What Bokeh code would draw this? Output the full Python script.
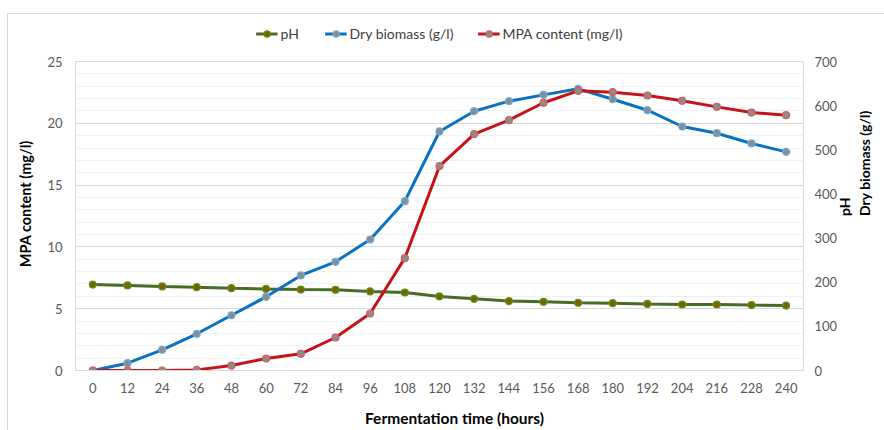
import math
from bokeh.plotting import figure
from bokeh.layouts import column
from bokeh.models import LinearAxis, Range1d, Legend, LegendItem, FixedTicker
from bokeh.embed import file_html
from bokeh.resources import INLINE

hours = ["0", "12", "24", "36", "48", "60", "72", "84", "96", "108", "120",
         "132", "144", "156", "168", "180", "192", "204", "216", "228", "240"]
ph = [6.95, 6.88, 6.80, 6.74, 6.66, 6.60, 6.55, 6.53, 6.40, 6.31, 5.99,
      5.80, 5.62, 5.56, 5.48, 5.45, 5.39, 5.34, 5.34, 5.29, 5.25]
biomass = [0.0, 0.59, 1.67, 2.97, 4.47, 5.96, 7.69, 8.79, 10.6, 13.7, 19.34,
           20.98, 21.79, 22.3, 22.79, 21.95, 21.06, 19.74, 19.2, 18.37, 17.69]
mpa = [0.0, 0.0, 0.0, 0.05, 0.4, 0.97, 1.35, 2.67, 4.61, 9.09, 16.53,
       19.12, 20.25, 21.66, 22.63, 22.52, 22.25, 21.82, 21.33, 20.87, 20.66]
left_ticks = [0, 5, 10, 15, 20, 25]
right_ticks = [0, 100, 200, 300, 400, 500, 600, 700]
series_names = ["pH", "Dry biomass (g/l)", "MPA content (mg/l)"]

FONT = "Lato"
NBSP = "\u00a0"
line_colors = ["#4a6b28", "#0a72c0", "#c41418"]
fill_colors = ["#7f6000", "#8c8c8c", "#8c8c8c"]
edge_colors = ["#4e9a1e", "#6aaee0", "#d85a5a"]
series = [ph, biomass, mpa]

# ---------- main chart ----------
p = figure(x_range=hours, y_range=Range1d(0, 25), width=884, height=385,
           output_backend="svg", toolbar_location=None,
           min_border_left=75, min_border_right=81, min_border_top=16, min_border_bottom=60)
p.extra_y_ranges = {"right": Range1d(0, 700)}
p.border_fill_alpha = 0

p.outline_line_color = "#d9d9d9"
p.xgrid.grid_line_color = None
p.ygrid.grid_line_color = "#d9d9d9"
p.ygrid.minor_grid_line_color = "#f0f0f0"
p.yaxis.ticker = FixedTicker(ticks=left_ticks, minor_ticks=list(range(26)))


def style_axis(ax):
    ax.major_tick_line_color = None
    ax.minor_tick_line_color = None
    ax.major_tick_out = 0
    ax.major_tick_in = 0
    ax.minor_tick_out = 0
    ax.minor_tick_in = 0
    ax.major_label_text_font = FONT
    ax.major_label_text_font_size = "13px"
    ax.major_label_text_color = "#595959"
    ax.axis_label_text_font = FONT
    ax.axis_label_text_font_size = "14px"
    ax.axis_label_text_font_style = "bold"
    ax.axis_label_text_color = "#000000"


style_axis(p.xaxis[0])
style_axis(p.yaxis[0])

p.xaxis.axis_line_color = "#d9d9d9"
p.yaxis.axis_line_color = None
p.xaxis.axis_label = NBSP * 8 + "Fermentation time (hours)"
p.yaxis.axis_label = NBSP * 7 + "MPA content (mg/l)"
p.xaxis.major_label_standoff = 12
p.xaxis.axis_label_standoff = 13
p.xaxis.axis_label_text_font_size = "15.5px"
p.yaxis.axis_label_text_font_size = "14.5px"
p.yaxis.major_label_standoff = 13
p.yaxis.axis_label_standoff = 10

rax = LinearAxis(y_range_name="right", ticker=FixedTicker(ticks=right_ticks),
                 axis_label="pH")
style_axis(rax)
rax.axis_line_color = None
rax.major_label_standoff = 11
rax.axis_label_standoff = 4
rax.axis_label_orientation = math.pi / 2
p.add_layout(rax, "right")

rax2 = LinearAxis(y_range_name="right", ticker=FixedTicker(ticks=[]),
                  axis_label="Dry biomass (g/l)")
style_axis(rax2)
rax2.axis_line_color = None
rax2.major_label_text_font_size = "0px"
rax2.major_label_standoff = 0
rax2.axis_label_standoff = 0
rax2.axis_label_orientation = math.pi / 2
p.add_layout(rax2, "right")

for ys, lc, fc, ec in zip(series, line_colors, fill_colors, edge_colors):
    p.line(hours, ys, line_color=lc, line_width=3)
    p.scatter(hours, ys, size=7, fill_color=fc, line_color=ec, line_width=1.2)

# ---------- legend strip above the chart ----------
lg = figure(x_range=hours, y_range=Range1d(100, 101), width=884, height=45,
            output_backend="svg", toolbar_location=None,
            min_border_left=75, min_border_right=81, min_border_top=21, min_border_bottom=0)
lg.axis.visible = False
lg.grid.visible = False
lg.outline_line_color = None
lg.border_fill_alpha = 0
lg.background_fill_alpha = 0

items = []
for name, ys, lc, fc, ec in zip(series_names, series, line_colors, fill_colors, edge_colors):
    r1 = lg.line(hours, ys, line_color=lc, line_width=3)
    r2 = lg.scatter(hours, ys, size=7, fill_color=fc, line_color=ec, line_width=1.2)
    items.append(LegendItem(label=name, renderers=[r1, r2]))

legend = Legend(items=items, orientation="horizontal", location="center")
legend.label_text_font = FONT
legend.label_text_font_size = "14px"
legend.label_text_color = "#404040"
legend.glyph_width = 22
legend.glyph_height = 16
legend.label_height = 16
legend.label_standoff = 3
legend.spacing = 24
legend.padding = 0
legend.margin = 0
legend.border_line_color = None
legend.background_fill_alpha = 0
lg.add_layout(legend, "center")

layout = column(lg, p, spacing=0)
layout.styles = {
    "background": ("linear-gradient(#d9d9d9,#d9d9d9) 7px 13px / 1px 100% no-repeat, "
                   "linear-gradient(#d9d9d9,#d9d9d9) 7px 13px / 100% 1px no-repeat, #ffffff"),
}
open("out.html", "w").write(file_html(layout, INLINE))
